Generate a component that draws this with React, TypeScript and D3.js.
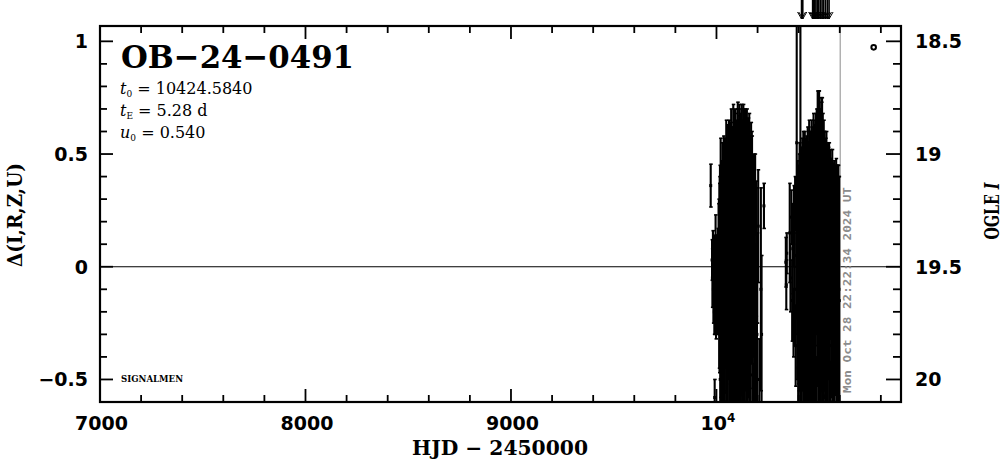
import React from 'react';
import * as d3 from 'd3';

// ---------- data ----------
const xTickValues = [7000, 8000, 9000, 10000];
const yTickValues = [-0.5, 0, 0.5, 1];
const magTickValues = [18.5, 19, 19.5, 20];
const magZero = 19.5;

const season1HJD = [
  9972.0, 9978.5, 9980.2, 9982.8, 9985.1, 9987.4, 9989.6, 9991.3, 9993.0, 9995.7,
  9997.9, 10000.4, 10002.6, 10004.9, 10007.3, 10009.5, 10011.8, 10013.6, 10015.9, 10018.2,
  10020.4, 10022.7, 10024.9, 10027.1, 10029.6, 10031.8, 10033.9, 10036.2, 10038.5, 10040.7,
  10042.9, 10045.3, 10047.6, 10049.8, 10052.1, 10054.4, 10056.6, 10058.9, 10061.3, 10063.5,
  10065.8, 10068.0, 10070.4, 10072.7, 10074.9, 10077.2, 10079.6, 10081.8, 10084.1, 10086.3,
  10088.7, 10090.9, 10093.2, 10095.5, 10097.7, 10100.1, 10102.3, 10104.6, 10106.8, 10109.2,
  10111.5, 10113.7, 10116.0, 10118.4, 10120.6, 10122.9, 10125.1, 10127.4, 10129.8, 10132.0,
  10134.3, 10136.5, 10138.8, 10141.2, 10143.4, 10145.7, 10148.0, 10150.3, 10152.6, 10154.8,
  10157.1, 10159.5, 10161.7, 10164.0, 10166.3, 10168.5, 10170.9, 10173.1, 10175.4, 10177.8,
  10180.0, 10182.4, 10185.0, 10188.2, 10191.5, 10194.8, 10198.6, 10203.0, 10208.5, 10216.0,
  10219.5, 10231.0,
];
const season1Delta = [
  0.36, 0.03, -0.05, 0.06, -0.10, 0.01, -0.20, -0.58, -0.08, 0.05,
  -0.22, 0.02, -0.12, -0.20, 0.05, -0.08, 0.15, -0.25, 0.05, -0.50,
  0.35, -0.10, 0.18, -0.35, 0.40, -0.55, 0.12, -0.20, 0.45, -0.42,
  0.25, -0.05, 0.50, -0.60, 0.08, -0.30, 0.38, -0.12, 0.55, -0.48,
  0.20, -0.25, 0.42, -0.58, 0.00, 0.30, -0.38, 0.60, -0.10, 0.15,
  -0.50, 0.48, -0.22, 0.35, -0.62, 0.10, 0.55, -0.35, 0.25, -0.05,
  0.62, -0.52, 0.40, -0.18, 0.05, 0.50, -0.45, 0.30, -0.28, 0.58,
  -0.60, 0.15, 0.45, -0.15, 0.32, -0.40, 0.52, 0.00, -0.55, 0.38,
  -0.20, 0.48, -0.35, 0.20, -0.48, 0.42, -0.08, 0.30, -0.30, 0.10,
  -0.58, 0.25, -0.15, 0.32, -0.40, 0.05, -0.05, 0.18, -0.50, -0.10,
  -0.30, 0.27,
];
const season1Err = [
  0.095, 0.09, 0.13, 0.10, 0.15, 0.12, 0.10, 0.08, 0.22, 0.18,
  0.10, 0.12, 0.15, 0.10, 0.12, 0.20, 0.15, 0.20, 0.35, 0.20,
  0.22, 0.32, 0.25, 0.30, 0.15, 0.18, 0.28, 0.35, 0.12, 0.25,
  0.30, 0.40, 0.15, 0.22, 0.32, 0.30, 0.25, 0.38, 0.10, 0.30,
  0.35, 0.40, 0.22, 0.15, 0.45, 0.32, 0.35, 0.12, 0.42, 0.38,
  0.28, 0.20, 0.40, 0.30, 0.20, 0.45, 0.15, 0.38, 0.40, 0.45,
  0.10, 0.30, 0.28, 0.42, 0.40, 0.22, 0.35, 0.35, 0.40, 0.12,
  0.25, 0.42, 0.25, 0.40, 0.30, 0.35, 0.18, 0.42, 0.25, 0.28,
  0.38, 0.20, 0.30, 0.38, 0.22, 0.22, 0.35, 0.28, 0.32, 0.30,
  0.15, 0.25, 0.30, 0.18, 0.25, 0.30, 0.20, 0.25, 0.18, 0.45,
  0.35, 0.10,
];

// faint-epoch points with large errors in the first season
const season1FaintHJD = [
  10001.5, 10006.1, 10010.6, 10014.7, 10017.0, 10021.5, 10025.9, 10030.7, 10035.0, 10039.6,
  10044.1, 10048.7, 10053.2, 10057.7, 10062.4, 10066.9, 10071.5, 10076.1, 10080.7, 10085.2,
  10089.8, 10094.3, 10098.9, 10103.5, 10108.0, 10112.6, 10117.2, 10121.7, 10126.3, 10130.9,
  10135.4, 10140.0, 10144.6, 10149.1, 10153.7, 10158.3, 10162.9, 10167.4, 10172.0, 10176.6,
  10181.2, 10186.5, 10192.8, 10197.0,
];
const season1FaintDelta = [
  -0.05, -0.10, 0.00, -0.05, 0.15, -0.20, 0.02, -0.15, 0.18, -0.08,
  0.12, -0.22, 0.05, 0.20, -0.15, 0.00, 0.25, -0.20, 0.10, -0.05,
  0.22, -0.18, 0.05, 0.28, -0.12, 0.12, -0.25, 0.18, -0.02, 0.30,
  -0.15, 0.08, -0.22, 0.20, -0.05, 0.12, -0.18, 0.05, 0.22, -0.12,
  0.00, -0.25, 0.08, -0.30,
];
const season1FaintErr = [
  0.18, 0.20, 0.28, 0.42, 0.30, 0.38, 0.45, 0.42, 0.40, 0.48,
  0.45, 0.42, 0.50, 0.42, 0.48, 0.52, 0.45, 0.50, 0.52, 0.55,
  0.48, 0.52, 0.55, 0.45, 0.55, 0.55, 0.50, 0.52, 0.55, 0.42,
  0.52, 0.52, 0.45, 0.45, 0.50, 0.45, 0.45, 0.48, 0.38, 0.42,
  0.40, 0.35, 0.30, 0.30,
];

const season2HJD = [
  10337.5, 10339.8, 10342.0, 10356.5, 10360.2, 10364.8, 10368.3, 10371.6, 10374.9, 10377.3,
  10380.1, 10382.7, 10385.4, 10388.0, 10390.5, 10392.8, 10395.3, 10397.6, 10400.0, 10402.4,
  10404.8, 10408.5, 10410.9, 10413.2, 10415.6, 10418.0, 10420.3, 10422.7, 10425.1, 10427.4,
  10429.8, 10432.1, 10434.5, 10436.9, 10439.2, 10441.6, 10444.0, 10446.3, 10448.7, 10451.1,
  10453.4, 10455.8, 10458.2, 10460.5, 10462.9, 10465.3, 10467.6, 10470.0, 10472.4, 10474.7,
  10477.1, 10479.5, 10481.8, 10484.2, 10486.6, 10488.9, 10491.3, 10493.7, 10496.0, 10498.4,
  10500.8, 10503.1, 10505.5, 10507.9, 10510.2, 10512.6, 10515.0, 10517.3, 10519.7, 10522.1,
  10524.4, 10526.8, 10529.2, 10531.5, 10533.9, 10536.3, 10538.6, 10541.0, 10543.4, 10545.7,
  10548.1, 10550.5, 10552.8, 10555.2, 10557.6, 10559.9, 10562.3, 10564.7, 10567.0, 10569.4,
  10571.8, 10574.1, 10576.5, 10578.9, 10581.2, 10583.6, 10586.0, 10588.3, 10591.5, 10595.8,
];
const season2Delta = [
  0.02, -0.08, 0.06, 0.15, -0.05, 0.22, -0.15, 0.08, -0.25, 0.18,
  -0.10, 0.28, -0.35, 0.05, 0.55, -0.20, 0.25, -0.45, 0.10, -0.15,
  0.35, 0.50, -0.55, 0.15, -0.30, 0.42, -0.08, 0.30, -0.50, 0.05,
  0.45, -0.25, 0.22, -0.60, 0.38, -0.12, 0.50, -0.40, 0.12, 0.55,
  -0.20, 0.30, -0.58, 0.00, 0.45, -0.35, 0.20, -0.10, 0.58, -0.50,
  0.35, -0.25, 0.10, 0.48, -0.62, 0.25, -0.05, 0.52, -0.40, 0.60,
  0.15, -0.30, 0.45, -0.55, 0.55, 0.05, -0.18, 0.40, -0.45, 0.25,
  0.48, -0.10, -0.58, 0.32, -0.28, 0.12, 0.42, -0.48, 0.20, -0.05,
  0.35, -0.35, 0.08, -0.60, 0.30, -0.15, 0.22, -0.42, 0.05, 0.28,
  -0.25, -0.55, 0.15, -0.08, 0.25, -0.38, 0.10, -0.20, 0.05, -0.10,
];
const season2Err = [
  0.11, 0.11, 0.09, 0.22, 0.15, 0.12, 0.18, 0.20, 0.15, 0.18,
  0.25, 0.12, 0.18, 0.28, 0.55, 0.30, 0.22, 0.25, 0.35, 0.40,
  0.20, 0.60, 0.20, 0.38, 0.35, 0.15, 0.45, 0.30, 0.28, 0.42,
  0.15, 0.40, 0.35, 0.20, 0.20, 0.45, 0.12, 0.35, 0.42, 0.10,
  0.42, 0.30, 0.22, 0.48, 0.20, 0.38, 0.40, 0.45, 0.10, 0.30,
  0.28, 0.42, 0.45, 0.20, 0.22, 0.38, 0.48, 0.18, 0.35, 0.18,
  0.45, 0.40, 0.25, 0.28, 0.20, 0.48, 0.42, 0.28, 0.32, 0.40,
  0.12, 0.45, 0.20, 0.25, 0.40, 0.42, 0.12, 0.30, 0.35, 0.45,
  0.20, 0.35, 0.40, 0.18, 0.18, 0.40, 0.22, 0.30, 0.38, 0.18,
  0.38, 0.22, 0.30, 0.40, 0.20, 0.30, 0.35, 0.40, 0.40, 0.50,
];

// faint-epoch points with large errors in the second season
const season2FaintHJD = [
  10394.0, 10399.0, 10403.5, 10407.2, 10411.8, 10416.8, 10421.4, 10426.2, 10430.9, 10435.6,
  10440.3, 10445.1, 10449.8, 10454.6, 10459.3, 10464.1, 10468.8, 10473.5, 10478.3, 10483.0,
  10487.7, 10492.5, 10497.2, 10499.5, 10502.0, 10506.7, 10511.4, 10514.0, 10516.2, 10520.9,
  10525.6, 10530.4, 10535.1, 10539.8, 10544.6, 10549.3, 10554.0, 10558.8, 10563.5, 10568.2,
  10573.0, 10577.7, 10582.5, 10587.2, 10593.0, 10597.0,
];
const season2FaintDelta = [
  0.05, -0.10, 0.12, -0.20, 0.08, -0.05, 0.15, -0.18, 0.05, 0.20,
  -0.12, 0.10, -0.22, 0.18, -0.05, 0.12, -0.20, 0.25, 0.00, -0.15,
  0.20, 0.30, -0.10, 0.40, 0.15, -0.18, 0.28, 0.45, 0.00, -0.22,
  0.15, -0.05, 0.20, -0.15, 0.05, -0.20, 0.10, -0.10, 0.12, -0.18,
  0.05, -0.12, 0.10, -0.05, 0.15, -0.15,
];
const season2FaintErr = [
  0.35, 0.42, 0.38, 0.45, 0.42, 0.50, 0.38, 0.50, 0.48, 0.35,
  0.50, 0.45, 0.50, 0.42, 0.55, 0.50, 0.52, 0.40, 0.55, 0.55,
  0.50, 0.48, 0.58, 0.38, 0.55, 0.55, 0.45, 0.30, 0.55, 0.50,
  0.45, 0.52, 0.40, 0.50, 0.48, 0.45, 0.42, 0.48, 0.40, 0.45,
  0.42, 0.45, 0.38, 0.45, 0.30, 0.55,
];

// points above the plot limit (marked by arrows on top)
const offScaleHJD = [10414, 10420, 10468, 10473, 10478, 10484, 10491, 10498, 10506, 10514, 10522, 10531, 10540, 10548];

const currentHJD = 10602;
const currentDateLabel = 'Mon Oct 28 22:22:34 2024 UT';
const baselineMarkHJD = 10765;
const baselineMarkDelta = 1.0;

const eventName = 'OB\u221224\u22120491';
const t0Text = '10424.5840';
const tEText = '5.28 d';
const u0Text = '0.540';

// ---------- layout ----------
const W = 1004;
const H = 459;
const L = 100, R = 901, T = 26, B = 402;

export default function App() {
  const x = d3.scaleLinear().domain([7000, 10898]).range([L, R]);
  const y = d3.scaleLinear().domain([-0.6, 1.068]).range([B, T]);
  const m = d3.scaleLinear().domain([magZero + 0.6, magZero - 1.068]).range([B, T]);

  const xMinor = d3.range(7000, 10899, 200).filter((v) => v % 1000 !== 0);
  const xMajor = d3.range(7000, 10899, 1000);
  const yMinor = d3.range(-6, 11).map((k) => k / 10).filter((v) => Math.abs(v * 2 - Math.round(v * 2)) > 1e-6);
  const magMinor = d3.range(186, 201).map((k) => k / 10).filter((v) => Math.abs(v * 2 - Math.round(v * 2)) > 1e-6);

  const points = [
    ...season1HJD.map((t, i) => ({ t, d: season1Delta[i], e: season1Err[i] })),
    ...season1FaintHJD.map((t, i) => ({ t, d: season1FaintDelta[i], e: season1FaintErr[i] })),
    ...season2HJD.map((t, i) => ({ t, d: season2Delta[i], e: season2Err[i] })),
    ...season2FaintHJD.map((t, i) => ({ t, d: season2FaintDelta[i], e: season2FaintErr[i] })),
  ];

  const numFont = "'DejaVu Sans', sans-serif";
  const serif = "'DejaVu Serif', serif";
  const MAJ = 13, MIN = 7;

  return (
    <svg width={W} height={H} style={{ position: 'absolute', left: 0, top: 0, background: '#fff' }}
      xmlns="http://www.w3.org/2000/svg">
      <defs>
        <clipPath id="plot">
          <rect x={L} y={T} width={R - L} height={B - T} />
        </clipPath>
      </defs>
      <rect x={0} y={0} width={W} height={H} fill="#fff" />

      {/* zero line */}
      <line x1={L} x2={R} y1={y(0)} y2={y(0)} stroke="#000" strokeWidth={1.2} />

      {/* current date line */}
      <line x1={x(currentHJD)} x2={x(currentHJD)} y1={T} y2={B} stroke="#8c8c8c" strokeWidth={1} />
      <text transform={`translate(${x(currentHJD) + 11},${B - 9}) rotate(-90)`} fontFamily="'DejaVu Sans Mono', monospace"
        fontWeight="bold" fontSize={11} fill="#8c8c8c" textLength={206} lengthAdjust="spacingAndGlyphs">
        {currentDateLabel}
      </text>

      {/* data */}
      <g clipPath="url(#plot)" stroke="#000" strokeWidth={2.1}>
        {points.map((p, i) => {
          const px = x(p.t);
          const y1 = y(p.d + p.e);
          const y2 = y(p.d - p.e);
          return (
            <g key={i}>
              <line x1={px} x2={px} y1={y1} y2={y2} />
              <line x1={px - 1.5} x2={px + 2} y1={y1} y2={y1} strokeWidth={1.6} />
              <line x1={px - 1.5} x2={px + 2} y1={y2} y2={y2} strokeWidth={1.6} />
              <rect x={px - 1.5} y={y(p.d) - 1.5} width={3} height={3} fill="#000" stroke="none" />
            </g>
          );
        })}
      </g>

      {/* baseline marker */}
      <circle cx={x(baselineMarkHJD)} cy={y(baselineMarkDelta) + 6} r={2.3} fill="none" stroke="#000" strokeWidth={2} />

      {/* off-scale arrows */}
      <g stroke="#000">
        {offScaleHJD.map((t, i) => (
          <g key={i}>
            <line x1={x(t)} x2={x(t)} y1={0} y2={19} strokeWidth={1.6} />
            <polyline points={`${x(t) - 4},12 ${x(t)},19 ${x(t) + 4},12`} fill="none" strokeWidth={1} />
          </g>
        ))}
      </g>

      {/* ticks */}
      <g stroke="#000" strokeWidth={1.8}>
        {xMajor.map((v) => (
          <g key={'xM' + v}>
            <line x1={x(v)} x2={x(v)} y1={B} y2={B - MAJ} />
            <line x1={x(v)} x2={x(v)} y1={T} y2={T + MAJ} />
          </g>
        ))}
        {xMinor.map((v) => (
          <g key={'xm' + v}>
            <line x1={x(v)} x2={x(v)} y1={B} y2={B - MIN} />
            <line x1={x(v)} x2={x(v)} y1={T} y2={T + MIN} />
          </g>
        ))}
        {yTickValues.map((v) => (
          <line key={'yM' + v} x1={L} x2={L + MAJ} y1={y(v)} y2={y(v)} />
        ))}
        {yMinor.map((v) => (
          <line key={'ym' + v} x1={L} x2={L + MIN} y1={y(v)} y2={y(v)} />
        ))}
        {magTickValues.map((v) => (
          <line key={'mM' + v} x1={R} x2={R - MAJ - 2} y1={m(v)} y2={m(v)} />
        ))}
        {magMinor.map((v) => (
          <line key={'mm' + v} x1={R} x2={R - MIN - 1} y1={m(v)} y2={m(v)} />
        ))}
      </g>

      {/* frame */}
      <rect x={L} y={T} width={R - L} height={B - T} fill="none" stroke="#000" strokeWidth={2.2} />

      {/* tick labels */}
      <g fontFamily={numFont} fontWeight="bold" fontSize={19} fill="#000">
        {xTickValues.map((v) =>
          v === 10000 ? (
            <text key={'xl' + v} x={x(v) - 16} y={430}>
              10<tspan fontSize={12} dy={-8}>4</tspan>
            </text>
          ) : (
            <text key={'xl' + v} x={x(v) + 1.5} y={430} textAnchor="middle">{String(v)}</text>
          )
        )}
        {yTickValues.map((v) => (
          <text key={'yl' + v} x={88} y={y(v) + 7} textAnchor="end">
            {v < 0 ? '\u2212' + String(Math.abs(v)) : String(v)}
          </text>
        ))}
        {magTickValues.map((v) => (
          <text key={'ml' + v} x={915} y={m(v) + 7}>{String(v)}</text>
        ))}
      </g>

      {/* axis titles */}
      <text x={500} y={455} textAnchor="middle" fontFamily={serif} fontWeight="bold" fontSize={20}
        textLength={176} lengthAdjust="spacingAndGlyphs">
        HJD {'\u2212'} 2450000
      </text>
      <text transform="translate(22,215) rotate(-90)" textAnchor="middle" fontFamily={serif} fontWeight="bold" fontSize={20}
        textLength={104} lengthAdjust="spacingAndGlyphs">
        {'\u0394(I,R,Z,U)'}
      </text>
      <text transform="translate(999,211) rotate(-90)" textAnchor="middle" fontFamily={serif} fontWeight="bold" fontSize={20}
        textLength={57} lengthAdjust="spacingAndGlyphs">
        OGLE <tspan fontStyle="italic">I</tspan>
      </text>

      {/* title and parameters */}
      <text x={121} y={68} fontFamily={serif} fontWeight="bold" fontSize={32} textLength={233} lengthAdjust="spacingAndGlyphs">
        {eventName}
      </text>
      <g fontFamily={serif} fontSize={16} fill="#000">
        <text x={120} y={94}>
          <tspan fontStyle="italic">t</tspan>
          <tspan fontSize={9} dy={3}>0</tspan>
          <tspan dy={-3}>{' = ' + t0Text}</tspan>
        </text>
        <text x={120} y={116}>
          <tspan fontStyle="italic">t</tspan>
          <tspan fontSize={9} dy={3}>E</tspan>
          <tspan dy={-3}>{' = ' + tEText}</tspan>
        </text>
        <text x={120} y={138}>
          <tspan fontStyle="italic">u</tspan>
          <tspan fontSize={9} dy={3}>0</tspan>
          <tspan dy={-3}>{' = ' + u0Text}</tspan>
        </text>
      </g>
      <text x={121} y={382} fontFamily={serif} fontWeight="bold" fontSize={8.5} textLength={62} lengthAdjust="spacingAndGlyphs">
        SIGNALMEN
      </text>
    </svg>
  );
}
